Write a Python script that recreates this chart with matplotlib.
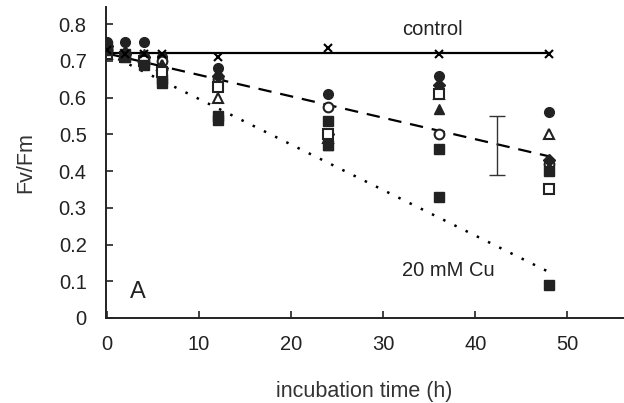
import numpy as np
import matplotlib
matplotlib.use("Agg")
import matplotlib.pyplot as plt
from matplotlib.ticker import FuncFormatter

plt.rcParams['font.family'] = ['Liberation Sans', 'DejaVu Sans']

times = [0, 2, 4, 6, 12, 24, 36, 48]

# treatment replicates (Fv/Fm)
filled_circle = [0.75, 0.75, 0.75, 0.71, 0.68, 0.61, 0.66, 0.56]
open_circle = [0.73, 0.72, 0.71, 0.70, 0.65, 0.575, 0.50, 0.42]
filled_tri = [0.74, 0.73, 0.72, 0.69, 0.67, 0.47, 0.57, 0.41]
open_tri = [0.72, 0.72, 0.71, 0.69, 0.60, 0.49, 0.61, 0.50]
filled_diam = [0.74, 0.72, 0.71, 0.68, 0.66, 0.50, 0.635, 0.43]
filled_sq = [0.74, 0.72, 0.70, 0.65, 0.55, 0.535, 0.46, 0.40]
open_sq = [0.72, 0.71, 0.70, 0.67, 0.63, 0.50, 0.61, 0.35]
cu20 = [0.73, 0.71, 0.69, 0.64, 0.54, 0.47, 0.33, 0.09]
control = [0.73, 0.72, 0.72, 0.72, 0.71, 0.735, 0.72, 0.72]

# fitted trend lines
fit_t = [0, 48]
fit_control = [0.722, 0.722]
fit_dashed = [0.72, 0.44]
fit_dotted = [0.72, 0.125]

err_t = 42.3
err_mid = 0.47
err_half = 0.08

fig = plt.figure(figsize=(6.24, 4.03), dpi=100)
ax = fig.add_axes([0.170, 0.211, 0.828, 0.772])

ax.plot(fit_t, fit_control, color='black', lw=1.6, zorder=2)
ax.plot(times, control, 'x', color='black', ms=6, mew=1.5, zorder=3)
ax.plot(fit_t, fit_dashed, color='black', lw=1.6, ls=(0, (6, 4)), zorder=2)
ax.plot(fit_t, fit_dotted, color='black', lw=1.8, ls=(0, (1, 4)), zorder=2)
ax.errorbar([err_t], [err_mid], yerr=[err_half], color='#333333', lw=1, capsize=6, fmt='none')

ms = 7
ax.plot(times, filled_circle, 'o', color='#222222', ms=ms, ls='none')
ax.plot(times, open_circle, 'o', mfc='white', mec='#222222', mew=1.5, ms=ms, ls='none')
ax.plot(times, filled_tri, '^', color='#222222', ms=ms, ls='none')
ax.plot(times, open_tri, '^', mfc='white', mec='#222222', mew=1.5, ms=ms, ls='none')
ax.plot(times, filled_diam, 'D', color='#222222', ms=6, ls='none')
ax.plot(times, filled_sq, 's', color='#222222', ms=ms, ls='none')
ax.plot(times, open_sq, 's', mfc='white', mec='#222222', mew=1.5, ms=ms, ls='none')
ax.plot(times, cu20, 's', color='#222222', ms=ms, ls='none')

ax.text(32, 0.785, 'control', fontsize=14.5, va='center', color='#222222')
ax.text(32, 0.13, '20 mM Cu', fontsize=14.5, va='center', color='#222222')
ax.text(2.5, 0.07, 'A', fontsize=17, va='center', color='#222222')

ax.set_xlim(-0.1, 56)
ax.set_ylim(0, 0.847)
ax.set_xticks([0, 10, 20, 30, 40, 50])
ax.set_yticks(np.arange(0, 0.81, 0.1))
ax.yaxis.set_major_formatter(FuncFormatter(lambda v, p: '0' if abs(v) < 1e-9 else f'{v:.1f}'))
ax.tick_params(direction='in', length=5, width=1.2, labelsize=14.5, colors='#222222')
ax.tick_params(axis='y', pad=14)
ax.tick_params(axis='x', pad=12)
for s in ['top', 'right']:
    ax.spines[s].set_visible(False)
for s in ['left', 'bottom']:
    ax.spines[s].set_linewidth(1.4)
    ax.spines[s].set_color('#222222')

ax.set_xlabel('incubation time (h)', fontsize=15.5, labelpad=20, color='#333333')
ax.set_ylabel('Fv/Fm', fontsize=15.5, labelpad=16, color='#333333')

fig.savefig('out.png', dpi=100)
